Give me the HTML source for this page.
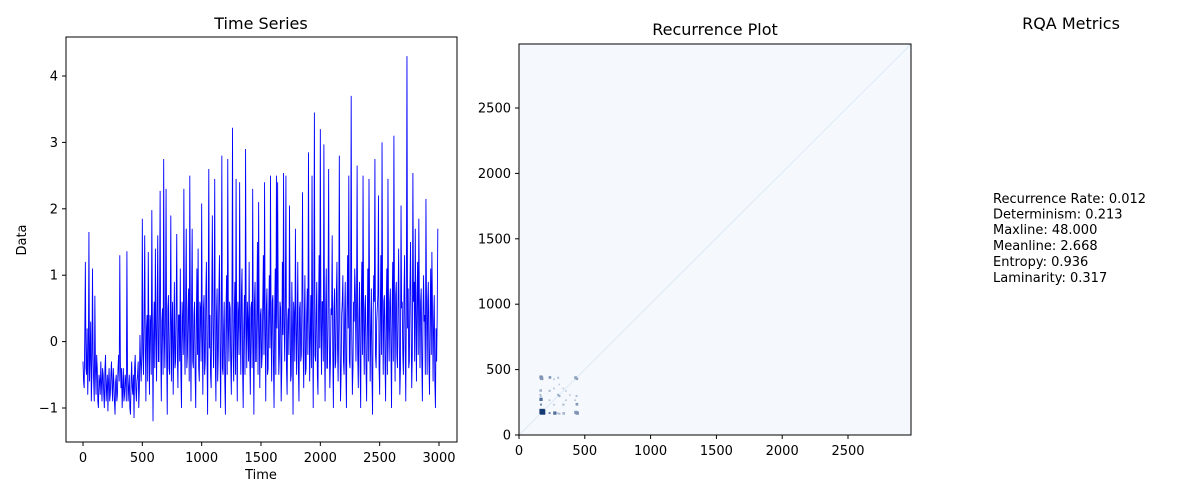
<!DOCTYPE html>
<html><head><meta charset="utf-8"><style>
body{margin:0;background:#fff;}
svg{display:block;font-family:"DejaVu Sans","Liberation Sans",sans-serif;}
</style></head><body>
<svg id="fig" width="1200" height="500" viewBox="0 0 1200 500">
<rect width="1200" height="500" fill="#fff"/>
<g id="left"></g>
<g id="right"></g>
<g id="rqa">
<text x="1071" y="29" font-size="16" text-anchor="middle">RQA Metrics</text>
<text x="993" y="203" font-size="13">Recurrence Rate: 0.012</text>
<text x="993" y="218.5" font-size="13">Determinism: 0.213</text>
<text x="993" y="234" font-size="13">Maxline: 48.000</text>
<text x="993" y="250" font-size="13">Meanline: 2.668</text>
<text x="993" y="266" font-size="13">Entropy: 0.936</text>
<text x="993" y="282" font-size="13">Laminarity: 0.317</text>
</g>
</svg>
<script>
const seriesStep = 10;
// values at t = 0,10,20,...
const seriesValues = [
-0.3,-0.7,1.2,-0.5,-0.8,1.65,-0.2,-0.9,1.1,-0.6,
0.69,-0.8,-0.4,-1.0,-0.6,-0.3,-0.9,-0.5,-1.0,-0.2,
-0.7,-1.05,-0.4,-0.8,-0.3,-0.9,-0.6,-1.1,-0.5,-0.8,
-0.2,1.3,-0.7,-1.0,-0.4,-0.8,-0.6,1.36,-0.9,-0.5,
-1.1,-0.3,-0.8,-1.15,-0.2,-0.9,-0.5,-1.0,0.1,-0.6,
1.85,-0.5,1.6,-0.9,0.4,1.35,-0.8,0.3,1.98,-1.2,
0.6,1.4,-0.6,1.6,-0.3,2.27,-0.9,0.5,2.75,-0.4,
2.3,-1.1,0.7,-0.5,1.9,0.2,-0.8,0.9,-0.3,1.62,
-0.7,0.4,1.1,-1.0,0.3,2.3,-0.5,1.7,-0.2,0.8,
2.5,-0.9,1.7,-0.4,0.6,-1.0,1.1,1.4,-0.6,0.5,
2.08,-0.8,0.7,-0.3,1.2,-1.1,2.6,0.4,-0.7,1.9,
-0.4,2.45,-0.9,0.8,-0.2,1.3,-1.0,2.8,-0.5,0.6,
-1.1,1.0,2.75,-0.3,0.5,-0.8,3.22,-0.6,0.9,2.45,
-0.9,0.4,2.4,-0.5,1.1,-1.0,0.7,2.9,-0.4,0.3,
1.2,-0.8,0.6,2.3,-1.1,0.9,-0.3,1.5,2.1,-0.7,
0.5,-0.2,1.3,2.4,-0.9,0.8,-0.4,1.0,2.5,-0.6,
0.7,-1.0,1.1,2.5,2.4,-0.5,0.6,-0.9,1.2,2.54,
-0.3,2.5,-0.8,0.5,2.05,-0.6,0.9,-1.1,0.4,1.7,
-0.5,1.2,-0.9,0.6,-0.2,2.25,-0.7,1.0,-0.4,0.8,
2.85,-0.6,0.7,2.5,-1.0,3.45,-0.3,0.9,-0.8,1.3,
3.2,-0.5,0.6,2.97,-0.9,1.1,-0.4,2.6,-0.7,0.5,
1.6,-1.0,0.8,-0.3,1.2,-0.6,2.8,-0.9,0.4,1.0,
-0.5,0.9,-1.0,1.3,2.5,-0.4,3.7,-0.8,0.6,1.1,
-0.3,2.65,-0.7,0.9,-1.0,1.2,2.5,-0.5,0.7,-0.9,
1.1,2.45,-0.6,0.8,-1.1,1.0,2.75,-0.4,0.5,2.2,
-0.8,1.3,3.0,-0.5,0.7,-0.9,1.1,2.45,-0.3,0.8,
-1.0,1.2,3.1,-0.6,0.9,-0.4,1.4,-0.8,2.05,0.6,
-0.5,1.3,-0.9,4.3,0.8,-0.3,1.5,-0.7,2.54,0.9,
1.7,-0.6,1.2,1.85,-0.4,0.8,-0.9,1.0,0.4,2.15,
-0.5,0.9,-0.8,1.1,1.35,-0.6,0.7,-1.0,-0.3,1.7];
// values at t = 5,15,25,... (in-between samples)
const seriesMidValues = [
-0.6,0.1,-0.4,0.2,-0.3,-0.6,0.3,-0.5,-0.2,-0.9,
-0.4,-0.2,-0.9,-0.5,-0.8,-0.6,-0.4,-0.8,-0.4,-0.9,
-0.5,-0.6,-0.9,-0.5,-0.7,-0.4,-0.9,-0.6,-0.9,-0.4,
-0.6,-0.3,-0.4,-0.7,-0.9,-0.5,-0.9,-0.4,-0.7,-1.0,
-0.6,-0.7,-0.5,-0.4,-0.7,-0.6,-0.3,-0.7,-0.3,-0.2,
-0.2,0.3,0.0,0.2,-0.6,0.1,0.4,-0.5,0.2,0.1,
-0.4,0.2,0.5,-0.3,0.6,-0.1,0.3,-0.5,0.1,0.4,
-0.2,0.5,-0.4,0.3,-0.6,0.6,-0.1,-0.4,0.5,-0.2,
0.4,-0.3,-0.5,0.6,-0.2,0.1,0.7,-0.4,0.5,-0.6,
0.2,0.6,-0.3,0.4,-0.5,0.3,-0.2,-0.4,0.6,-0.3,
0.1,0.5,-0.5,0.7,-0.2,0.4,-0.1,-0.5,0.6,0.2,
0.5,-0.3,0.4,-0.6,0.7,-0.1,0.3,-0.4,0.2,-0.6,
0.4,-0.5,0.2,0.6,-0.3,0.5,-0.2,0.4,-0.5,0.1,
0.6,-0.2,0.3,0.7,-0.4,0.2,-0.5,0.4,0.6,-0.3,
-0.2,0.5,-0.4,0.1,0.6,-0.3,0.5,-0.5,0.2,0.4,
-0.4,0.6,-0.2,0.3,0.5,-0.5,0.4,-0.1,0.2,0.6,
-0.3,0.4,-0.5,0.2,0.6,-0.2,0.5,-0.4,0.1,0.3,
0.6,-0.4,0.3,-0.2,0.5,-0.5,0.2,0.6,-0.3,0.4,
0.2,-0.4,0.5,-0.3,0.7,-0.1,0.3,-0.5,0.4,-0.2,
0.5,0.1,-0.4,0.3,0.6,-0.2,0.4,-0.5,0.5,-0.1,
0.3,0.6,-0.3,0.2,0.5,-0.4,0.6,0.1,-0.3,0.4,
-0.2,0.5,-0.4,0.7,-0.1,0.3,0.2,-0.5,0.6,-0.3,
0.4,-0.4,0.5,0.2,-0.3,0.6,0.1,-0.4,0.3,0.7,
0.5,-0.2,0.4,-0.4,0.6,-0.2,0.3,0.5,-0.4,0.2,
-0.3,0.6,0.2,-0.5,0.4,0.6,-0.2,0.3,0.7,-0.4,
0.4,-0.2,0.5,0.6,-0.3,0.4,-0.5,0.2,0.6,-0.1,
0.5,-0.3,0.4,0.7,-0.2,0.6,0.1,-0.4,0.5,-0.2,
0.7,-0.1,0.6,0.2,-0.4,0.8,0.3,-0.2,0.6,-0.3,
0.4,0.7,-0.2,0.5,0.6,-0.3,0.4,0.3,-0.5,0.5,
0.6,-0.3,0.4,-0.2,0.5,0.3,-0.6,0.2,0.4,0.8];
const timeTicks = [0,500,1000,1500,2000,2500,3000];
const dataTicks = [-1,0,1,2,3,4];
const rpTicks = [0,500,1000,1500,2000,2500];
// recurrence blocks: [x, y, size, intensity 0..1]
const rpBlockX = [155,155,155,225,225,290,290,350,420,155,225,290,420,155,225,350,420,420,300];
const rpBlockY = [160,260,430,160,430,160,300,260,160,330,330,430,430,300,260,330,260,430,380];
const rpBlockSize = [40,25,25,15,20,12,15,12,25,20,15,15,20,15,12,12,12,15,12];
const rpBlockValue = [0.95,0.7,0.55,0.6,0.5,0.35,0.4,0.3,0.5,0.35,0.35,0.3,0.4,0.3,0.3,0.25,0.3,0.45,0.25];

const NS='http://www.w3.org/2000/svg';
function mk(tag,attrs,parent){const e=document.createElementNS(NS,tag);for(const k in attrs)e.setAttribute(k,attrs[k]);parent.appendChild(e);return e;}

// ---- Time series
const L=document.getElementById('left');
const lx=t=>83+t*(356/3000);
const ly=v=>341.6-v*66.4;
let d='';
seriesValues.forEach((v,i)=>{
  const t=i*seriesStep;
  d+=(i?'L':'M')+lx(t).toFixed(2)+' '+ly(v).toFixed(2);
  if(i<seriesMidValues.length && i<seriesValues.length-1){
    d+='L'+lx(t+seriesStep/2).toFixed(2)+' '+ly(seriesMidValues[i]).toFixed(2);
  }
});
const line=mk('path',{d:d,fill:'none',stroke:'#0000ff','stroke-width':0.9,'stroke-linejoin':'miter'},L);


const lf=mk('rect',{x:66,y:37,width:391,height:405,fill:'none',stroke:'#000','stroke-width':1},L);


timeTicks.forEach(t=>{
  mk('line',{x1:lx(t),x2:lx(t),y1:442,y2:446,stroke:'#000'},L);
  const tx=mk('text',{x:lx(t),y:462,'font-size':13,'text-anchor':'middle'},L);tx.textContent=t;
  
  
});
dataTicks.forEach(v=>{
  mk('line',{x1:62,x2:66,y1:ly(v),y2:ly(v),stroke:'#000'},L);
  const tx=mk('text',{x:58,y:ly(v)+4.5,'font-size':13,'text-anchor':'end'},L);tx.textContent=v<0?'\u2212'+(-v):v;
  
  
});
let t1=mk('text',{x:261,y:479,'font-size':13,'text-anchor':'middle'},L);t1.textContent='Time';


t1=mk('text',{x:0,y:0,'font-size':13,'text-anchor':'middle',transform:'translate(26,240) rotate(-90)'},L);t1.textContent='Data';


t1=mk('text',{x:261,y:29,'font-size':16,'text-anchor':'middle'},L);t1.textContent='Time Series';



// ---- Recurrence plot
const R=document.getElementById('right');
const rx=v=>519+v*0.1316;
const ry=v=>435-v*0.1308;
const bg=mk('rect',{x:519,y:44,width:392,height:391,fill:'#f5f9fe'},R);


const diag=mk('line',{x1:rx(0),y1:ry(0),x2:rx(2980),y2:ry(2990),stroke:'#d3e3f2','stroke-width':0.7},R);


function blues(p){const a=[247,251,255],b=[8,48,107];return 'rgb('+a.map((c,i)=>Math.round(c+(b[i]-c)*p)).join(',')+')';}
rpBlockX.forEach((x,i)=>{
  const s=rpBlockSize[i];
  [[x,rpBlockY[i]],[rpBlockY[i],x]].forEach(([cx,cy])=>{
    const c=mk('rect',{x:rx(cx),y:ry(cy+s),width:s*0.1316,height:s*0.1308,fill:blues(rpBlockValue[i])},R);
    
    
  });
});
const rf=mk('rect',{x:519,y:44,width:392,height:391,fill:'none',stroke:'#000','stroke-width':1},R);


rpTicks.forEach(t=>{
  mk('line',{x1:rx(t),x2:rx(t),y1:435,y2:439,stroke:'#000'},R);
  let tx=mk('text',{x:rx(t),y:455,'font-size':13,'text-anchor':'middle'},R);tx.textContent=t;
  
  
  mk('line',{x1:515,x2:519,y1:ry(t),y2:ry(t),stroke:'#000'},R);
  tx=mk('text',{x:511,y:ry(t)+4.5,'font-size':13,'text-anchor':'end'},R);tx.textContent=t;
  
  
});
t1=mk('text',{x:715,y:35,'font-size':16,'text-anchor':'middle'},R);t1.textContent='Recurrence Plot';


</script>
</body></html>
